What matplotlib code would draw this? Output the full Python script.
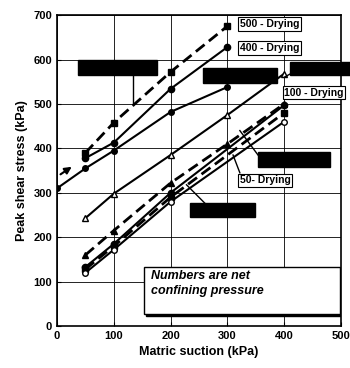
import numpy as np
import matplotlib.pyplot as plt
from matplotlib.patches import Rectangle

plt.rcParams['font.family'] = ['Liberation Sans', 'DejaVu Sans']
plt.rcParams['font.weight'] = 'bold'

# upper group
x_a = [50, 100, 200, 300]
y_a = [390, 458, 572, 675]          # 500 - Drying (dashed, filled squares)
x_b = [50, 100, 200, 300]
y_b = [378, 413, 534, 628]          # 400 - Drying (solid)
x_c = [0, 50, 100, 200, 300]
y_c = [310, 355, 395, 482, 538]     # solid, filled circles
x_e = [50, 100, 200, 300, 400]
y_e = [243, 298, 385, 475, 568]     # solid, open triangles

# lower group
x_l1 = [50, 100, 200, 300, 400]
y_l1 = [160, 215, 322, 410, 500]    # dashed, filled triangles
x_l2 = [50, 100, 200, 400]
y_l2 = [133, 185, 300, 497]         # 100 - Drying (solid, filled circles)
x_l3 = [50, 100, 200, 400]
y_l3 = [128, 180, 290, 480]         # dashed, filled squares
x_l4 = [50, 100, 200, 400]
y_l4 = [120, 172, 280, 460]         # solid, open circles

fig = plt.figure(figsize=(3.5, 3.68), dpi=100)
ax = fig.add_axes([0.163, 0.114, 0.811, 0.845])

dash = (0, (4, 2))
ax.plot(x_a, y_a, color='black', lw=2, linestyle=dash, marker='s', ms=4.5)
ax.plot(x_b, y_b, color='black', lw=1.5, marker='o', ms=4.5)
ax.plot(x_c, y_c, color='black', lw=1.5, marker='o', ms=4)
ax.plot(x_e, y_e, color='black', lw=1.5, marker='^', ms=4, mfc='white')
ax.plot(x_l1, y_l1, color='black', lw=2, linestyle=dash, marker='^', ms=4.5)
ax.plot(x_l2, y_l2, color='black', lw=1.5, marker='o', ms=4.5)
ax.plot(x_l3, y_l3, color='black', lw=2, linestyle=dash, marker='s', ms=4.5)
ax.plot(x_l4, y_l4, color='black', lw=1.5, marker='o', ms=4, mfc='white')

# arrow at left
ax.annotate('', xy=(30, 362), xytext=(2, 338),
            arrowprops=dict(arrowstyle='-|>', color='black', lw=1.5))

# labels
lab_kw = dict(fontsize=7.5, fontweight='bold', va='center', ha='left',
              bbox=dict(boxstyle='square,pad=0.15', fc='white', ec='black', lw=0.8),
              clip_on=False)
ax.text(322, 680, '500 - Drying', **lab_kw)
ax.text(322, 626, '400 - Drying', **lab_kw)
ax.text(400, 525, '100 - Drying', **lab_kw)
ax.text(322, 328, '50- Drying', **lab_kw)

# redacted boxes
boxes = [(37, 565, 139, 34), (257, 547, 130, 34), (410, 565, 110, 30),
         (354, 358, 127, 34), (234, 245, 115, 32)]
for bx, by, bw, bh in boxes:
    ax.add_patch(Rectangle((bx, by), bw, bh, fc='black', ec='black',
                           clip_on=False, zorder=5))

# pointer lines
ptr = [((134, 565), (134, 498)), ((354, 385), (322, 440)),
       ((260, 277), (228, 318)), ((322, 345), (310, 385)),
       ((410, 567), (400, 560))]
for p0, p1 in ptr:
    ax.plot([p0[0], p1[0]], [p0[1], p1[1]], color='black', lw=1, clip_on=False)

# note box with shadow
ax.add_patch(Rectangle((157, 22), 347, 108, fc='black', ec='black', zorder=6))
ax.add_patch(Rectangle((153, 28), 345, 105, fc='white', ec='black', lw=1, zorder=7))
ax.text(165, 112, 'Numbers are net', fontsize=9, fontweight='bold',
        style='italic', va='center', zorder=8)
ax.text(165, 78, 'confining pressure', fontsize=9, fontweight='bold',
        style='italic', va='center', zorder=8)

ax.set_xlim(0, 500)
ax.set_ylim(0, 700)
ax.set_xticks(np.arange(0, 501, 100))
ax.set_yticks(np.arange(0, 701, 100))
ax.grid(True, color='black', lw=0.6)
ax.tick_params(labelsize=8, length=3, direction='in')
for s in ax.spines.values():
    s.set_linewidth(1.2)
ax.set_xlabel('Matric suction (kPa)', fontsize=9, fontweight='bold')
ax.set_ylabel('Peak shear stress (kPa)', fontsize=9, fontweight='bold')

fig.savefig('out.png', dpi=100)
